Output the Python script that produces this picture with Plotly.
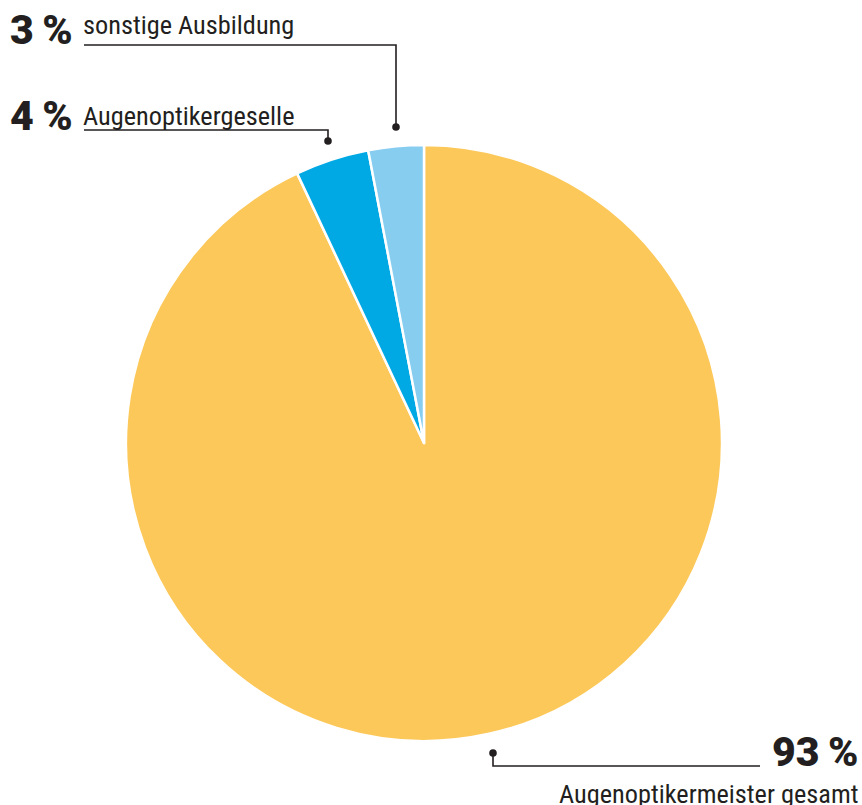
import plotly.graph_objects as go

# Anteile der Qualifikationen (im Uhrzeigersinn ab 12 Uhr)
labels = ["Augenoptikermeister gesamt", "Augenoptikergeselle", "sonstige Ausbildung"]
values = [93, 4, 3]
colors = ["#FCC859", "#00A9E4", "#86CDF0"]

W, H = 862, 805
INK = "#231F20"
LABEL_FONT = "Roboto"
BOLD_FONT = "Roboto"


def px(x):
    return x / W


def py(y):
    return 1 - y / H


fig = go.Figure(
    go.Pie(
        labels=labels,
        values=values,
        marker=dict(colors=colors, line=dict(color="white", width=2.5)),
        sort=False,
        direction="clockwise",
        rotation=0,
        textinfo="none",
        hoverinfo="label+percent",
        domain=dict(x=[px(126), px(722)], y=[py(741), py(145)]),
        showlegend=False,
    )
)

shapes = []
annotations = []


def leader(points, dot):
    path = "M " + " L ".join(f"{px(x)},{py(y)}" for x, y in points)
    shapes.append(dict(type="path", xref="paper", yref="paper", path=path,
                       line=dict(color=INK, width=1.6)))
    r = 3.8
    shapes.append(dict(type="circle", xref="paper", yref="paper",
                       x0=px(dot[0] - r), x1=px(dot[0] + r),
                       y0=py(dot[1] + r), y1=py(dot[1] - r),
                       fillcolor=INK, line=dict(color=INK, width=0)))


def pct(x, y, value, xanchor="left"):
    annotations.append(dict(
        x=px(x), y=py(y), xref="paper", yref="paper", showarrow=False,
        text=f"{value}\u2009%", xanchor=xanchor, yanchor="bottom",
        font=dict(size=41, family=BOLD_FONT, color=INK, weight=900),
    ))


def name(x, y, text, xanchor="left"):
    annotations.append(dict(
        x=px(x), y=py(y), xref="paper", yref="paper", showarrow=False,
        text=f"<span style='font-stretch:condensed'>{text}</span>",
        xanchor=xanchor, yanchor="bottom",
        font=dict(size=26.3, family=LABEL_FONT, color=INK),
    ))


# sonstige Ausbildung
leader([(84, 45), (396, 45), (396, 127)], (396, 127))
pct(8, 56, values[2])
name(81, 42, labels[2])

# Augenoptikergeselle
leader([(84, 130), (328, 130), (328, 141)], (328, 141))
pct(8, 142, values[1])
name(81, 133, labels[1])

# Augenoptikermeister gesamt
leader([(493, 753), (493, 766), (760, 766)], (493, 753))
pct(860, 778, values[0], xanchor="right")
name(860, 811, labels[0], xanchor="right")

fig.update_layout(
    width=W, height=H,
    margin=dict(l=0, r=0, t=0, b=0),
    paper_bgcolor="white",
    plot_bgcolor="white",
    shapes=shapes,
    annotations=annotations,
)

fig.write_html("out.html")
